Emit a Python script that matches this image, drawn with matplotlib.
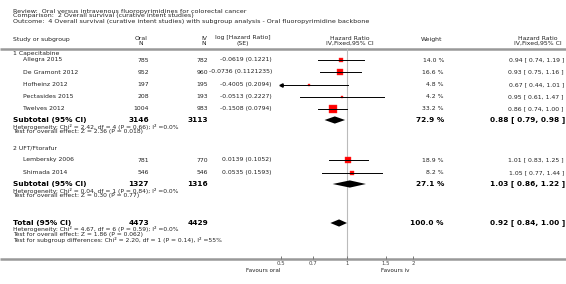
import numpy as np
import matplotlib.pyplot as plt

# ---- data ----
review = "Review:  Oral versus intravenous fluoropyrimidines for colorectal cancer"
comparison = "Comparison:  2 Overall survival (curative intent studies)"
outcome = ("Outcome:  4 Overall survival (curative intent studies) with subgroup "
           "analysis - Oral fluoropyrimidine backbone")

group_names = ["1 Capecitabine", "2 UFT/Ftorafur"]

studies = ["Allegra 2015", "De Gramont 2012", "Hofheinz 2012", "Pectasides 2015",
           "Twelves 2012", "Lembersky 2006", "Shimada 2014"]
oral_n = [785, 952, 197, 208, 1004, 781, 546]
iv_n = [782, 960, 195, 193, 983, 770, 546]
log_hr = ["-0.0619", "-0.0736", "-0.4005", "-0.0513", "-0.1508", "0.0139", "0.0535"]
log_se = ["0.1221", "0.1121235", "0.2094", "0.2227", "0.0794", "0.1052", "0.1593"]
weight = [14.0, 16.6, 4.8, 4.2, 33.2, 18.9, 8.2]
hr = [0.94, 0.93, 0.67, 0.95, 0.86, 1.01, 1.05]
hr_lo = [0.74, 0.75, 0.44, 0.61, 0.74, 0.83, 0.77]
hr_hi = [1.19, 1.16, 1.01, 1.47, 1.00, 1.25, 1.44]

sub_oral = [3146, 1327]
sub_iv = [3113, 1316]
sub_weight = [72.9, 27.1]
sub_hr = [0.88, 1.03]
sub_lo = [0.79, 0.86]
sub_hi = [0.98, 1.22]
sub_het = ["Heterogeneity: Chi\u00b2 = 2.42, df = 4 (P = 0.66); I\u00b2 =0.0%",
           "Heterogeneity: Chi\u00b2 = 0.04, df = 1 (P = 0.84); I\u00b2 =0.0%"]
sub_test = ["Test for overall effect: Z = 2.36 (P = 0.018)",
            "Test for overall effect: Z = 0.30 (P = 0.77)"]

tot_oral, tot_iv, tot_weight = 4473, 4429, 100.0
tot_hr, tot_lo, tot_hi = 0.92, 0.84, 1.00
tot_notes = ["Heterogeneity: Chi\u00b2 = 4.67, df = 6 (P = 0.59); I\u00b2 =0.0%",
             "Test for overall effect: Z = 1.86 (P = 0.062)",
             "Test for subgroup differences: Chi\u00b2 = 2.20, df = 1 (P = 0.14), I\u00b2 =55%"]

ticks = [0.5, 0.7, 1, 1.5, 2]
tick_labels = ["0.5", "0.7", "1", "1.5", "2"]

# ---- layout (pixel rows, top = 0) ----
W, H = 566, 284
group_rows = [53, 148]
study_rows = [60, 72, 84.5, 96.5, 108.5, 160, 172.5]
sub_rows = [120, 184]
total_row = 223
head_line, axis_line = 49, 259
x_left, x_indent = 13, 23
x_oral, x_iv, x_log, x_wt, x_hr = 149, 208, 272, 444, 564
plot_l, plot_r = 281, 413

txt = "#222222"
small, norm, big = 4.3, 4.4, 5.3

fig = plt.figure(figsize=(W / 100, H / 100), dpi=100)
ax = fig.add_axes([0, 0, 1, 1])
ax.set_xlim(0, W)
ax.set_ylim(H, 0)
ax.axis("off")

# titles
for y, s in zip([11, 16, 21], [review, comparison, outcome]):
    ax.text(x_left, y, s, fontsize=4.6, color=txt, va="center")

# header
ax.text(x_left, 39, "Study or subgroup", fontsize=norm, color=txt, va="center")
for x, a, b in [(x_oral - 8, "Oral", "N"), (x_iv - 4, "IV", "N"),
                (243, "log [Hazard Ratio]", "(SE)"),
                ((plot_l + plot_r) / 2 + 3, "Hazard Ratio", "IV,Fixed,95% CI"),
                (538, "Hazard Ratio", "IV,Fixed,95% CI")]:
    ax.text(x, 38, a, fontsize=norm, color=txt, ha="center", va="center")
    ax.text(x, 43.5, b, fontsize=norm, color=txt, ha="center", va="center")
ax.text(x_wt - 12, 39, "Weight", fontsize=norm, color=txt, ha="center", va="center")

ax.plot([0, W], [head_line, head_line], color="#999999", lw=1.8, solid_capstyle="butt")
ax.plot([0, W], [axis_line, axis_line], color="#999999", lw=1.8, solid_capstyle="butt")

for g, y in enumerate(group_rows):
    ax.text(x_left, y, group_names[g], fontsize=norm, color=txt, va="center")

# study rows
for i, y in enumerate(study_rows):
    ax.text(x_indent, y, studies[i], fontsize=norm, color=txt, va="center")
    ax.text(x_oral, y, str(oral_n[i]), fontsize=norm, color=txt, ha="right", va="center")
    ax.text(x_iv, y, str(iv_n[i]), fontsize=norm, color=txt, ha="right", va="center")
    ax.text(x_log, y, f"{log_hr[i]} ({log_se[i]})", fontsize=norm, color=txt,
            ha="right", va="center")
    ax.text(x_wt, y, f"{weight[i]:.1f} %", fontsize=norm, color=txt, ha="right", va="center")
    ax.text(x_hr, y, f"{hr[i]:.2f} [ {hr_lo[i]:.2f}, {hr_hi[i]:.2f} ]", fontsize=norm,
            color=txt, ha="right", va="center")

# subtotal / total rows
def summary_text(y, label, n1, n2, w, est, lo, hi, notes):
    ax.text(x_left, y, label, fontsize=big, color="black", weight="bold", va="center")
    ax.text(x_oral, y, str(n1), fontsize=big, color="black", weight="bold", ha="right", va="center")
    ax.text(x_iv, y, str(n2), fontsize=big, color="black", weight="bold", ha="right", va="center")
    ax.text(x_wt, y, f"{w:.1f} %", fontsize=big, color="black", weight="bold",
            ha="right", va="center")
    ax.text(x_hr + 1, y, f"{est:.2f} [ {lo:.2f}, {hi:.2f} ]", fontsize=big, color="black",
            weight="bold", ha="right", va="center")
    for k, s in enumerate(notes):
        ax.text(x_left, y + 6.5 + 5.3 * k, s, fontsize=small, color=txt, va="center")

for g, y in enumerate(sub_rows):
    summary_text(y, "Subtotal (95% CI)", sub_oral[g], sub_iv[g], sub_weight[g],
                 sub_hr[g], sub_lo[g], sub_hi[g], [sub_het[g], sub_test[g]])
summary_text(total_row, "Total (95% CI)", tot_oral, tot_iv, tot_weight,
             tot_hr, tot_lo, tot_hi, tot_notes)

ax.text(plot_l - 1, 270, "Favours oral", fontsize=4.1, color=txt, ha="right", va="center")
ax.text(381, 270, "Favours iv", fontsize=4.1, color=txt, ha="left", va="center")

# ---- forest plot axes ----
fp = fig.add_axes([plot_l / W, (H - axis_line) / H, (plot_r - plot_l) / W,
                   (axis_line - head_line) / H])
fp.set_xscale("log")
fp.set_xlim(0.5, 2)
fp.set_ylim(axis_line, head_line)
fp.patch.set_alpha(0)
for s in fp.spines.values():
    s.set_visible(False)
fp.set_yticks([])
fp.set_xticks(ticks)
fp.set_xticklabels(tick_labels)
fp.minorticks_off()
fp.tick_params(axis="x", direction="in", length=2.5, width=0.7, color="#777777",
               labelsize=3.9, labelcolor="#444444", pad=1.5)
fp.axvline(1, color="#bbbbbb", lw=0.8, zorder=0)

for i, y in enumerate(study_rows):
    lo = max(hr_lo[i], 0.5)
    hi = min(hr_hi[i], 2)
    fp.plot([lo, hi], [y, y], color="black", lw=0.7, zorder=3)
    if hr_lo[i] < 0.5:
        fp.plot([0.5], [y], marker="<", ms=2.4, color="black", clip_on=False, zorder=3)
    fp.plot([hr[i]], [y], marker="s", ms=0.95 * np.sqrt(weight[i]), color="#ff0000",
            mec="#ff3030", mew=0.3, zorder=2)

def diamond(y, est, lo, hi, h=3.6):
    fp.fill([lo, est, hi, est], [y, y - h, y, y + h], color="black", lw=0, zorder=3)

for g, y in enumerate(sub_rows):
    diamond(y, sub_hr[g], sub_lo[g], sub_hi[g])
diamond(total_row, tot_hr, tot_lo, tot_hi)

fig.savefig("out.png", dpi=100)
